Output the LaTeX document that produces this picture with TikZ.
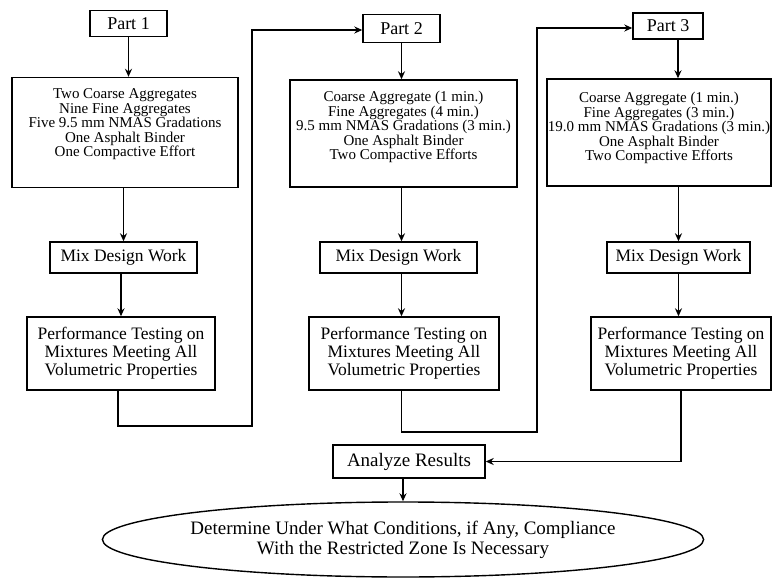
\documentclass[tikz,border=0pt]{standalone}
\usepackage{fontspec}
\setmainfont{Liberation Serif}
\usetikzlibrary{arrows.meta,shapes.geometric}
\begin{document}
\begin{tikzpicture}[x=1pt,y=-1pt,
  line width=1.4pt,
  arr/.style={-{Stealth[length=8pt,width=7pt]}},
  partbox/.style={draw, inner sep=0pt, minimum height=26pt, font=\fontsize{18}{19}\selectfont},
  listbox/.style={draw, inner sep=0pt, font=\fontsize{15}{14.6}\selectfont},
  midbox/.style={draw, inner sep=0pt, align=center, font=\fontsize{17.5}{18}\selectfont},
  bigbox/.style={draw, inner sep=0pt, align=center, font=\fontsize{19}{20}\selectfont},
  ovalbox/.style={draw, ellipse, inner sep=0pt, align=center, font=\fontsize{19}{20}\selectfont}
]
\useasboundingbox (0,0) rectangle (772,578);

% Part labels
\node[partbox, minimum width=77pt] (p1) at (128.5,23.5) {Part 1};
\node[partbox, minimum width=77pt, minimum height=28pt] (p2) at (401.5,28.5) {Part 2};
\node[partbox, minimum width=70pt] (p3) at (668,26) {Part 3};

% List boxes
\node[listbox] (b1) at (125,132.5) {\parbox[c][110pt][t]{226pt}{\centering\vspace*{11pt}Two Coarse Aggregates\\Nine Fine Aggregates\\Five 9.5 mm NMAS Gradations\\One Asphalt Binder\\One Compactive Effort}};
\node[listbox] (b2) at (403.5,133.5) {\parbox[c][107pt][t]{227pt}{\centering\vspace*{11pt}Coarse Aggregate (1 min.)\\Fine Aggregates (4 min.)\\9.5 mm NMAS Gradations (3 min.)\\One Asphalt Binder\\Two Compactive Efforts}};
\node[listbox] (b3) at (659,132.5) {\parbox[c][107pt][t]{224pt}{\centering\vspace*{13pt}Coarse Aggregate (1 min.)\\Fine Aggregates (3 min.)\\19.0 mm NMAS Gradations (3 min.)\\One Asphalt Binder\\Two Compactive Efforts}};

% Mix design boxes
\node[midbox, minimum width=147pt, minimum height=31pt] (m1) at (123.5,257.5) {Mix Design Work};
\node[midbox, minimum width=157pt, minimum height=31pt] (m2) at (398.5,257.5) {Mix Design Work};
\node[midbox, minimum width=143pt, minimum height=31pt] (m3) at (678.5,257.5) {Mix Design Work};

% Performance testing boxes
\node[midbox, minimum width=188pt, minimum height=73pt] (r1) at (121,353.5) {\raisebox{-3pt}{\parbox{188pt}{\centering Performance Testing on\\Mixtures Meeting All\\Volumetric Properties}}};
\node[midbox, minimum width=190pt, minimum height=73pt] (r2) at (404,353.5) {\raisebox{-3pt}{\parbox{190pt}{\centering Performance Testing on\\Mixtures Meeting All\\Volumetric Properties}}};
\node[midbox, minimum width=180pt, minimum height=73pt] (r3) at (681,353.5) {\raisebox{-3pt}{\parbox{180pt}{\centering Performance Testing on\\Mixtures Meeting All\\Volumetric Properties}}};

% Analysis
\node[bigbox, minimum width=152pt, minimum height=33pt] (an) at (409,461.5) {Analyze Results};
\node[ovalbox, minimum width=500pt, minimum height=75pt] (ell) at (403,539.5) {Determine Under What Conditions, if Any, Compliance\\With the Restricted Zone Is Necessary};

% bend points
\coordinate (k1) at (252,426);
\coordinate (k2) at (252,30);
\coordinate (k3) at (537,432);
\coordinate (k4) at (537,28);

% connectors column 1
\draw[arr] (p1.south) -- (b1.north -| p1.south);
\draw[arr] (b1.south -| m1.north) -- (m1.north);
\draw[arr] (m1.south -| r1.north) -- (r1.north);
\draw[arr] ([xshift=-3pt]r1.south) |- (k1) -- (k2) -- (k2 -| p2.west);

% connectors column 2
\draw[arr] (p2.south) -- (b2.north -| p2.south);
\draw[arr] (b2.south -| p2.south) -- (m2.north -| p2.south);
\draw[arr] (m2.south -| p2.south) -- (r2.north -| p2.south);
\draw[arr] (r2.south -| p2.south) |- (k3) -- (k4) -- (k4 -| p3.west);

% connectors column 3
\draw[arr] (p3.south -| 678,0) -- (b3.north -| 678,0);
\draw[arr] (b3.south -| m3.north) -- (m3.north);
\draw[arr] (m3.south) -- (r3.north -| m3.south);
\draw[arr] (r3.south) |- (an.east);

% to conclusion
\draw[arr] (an.south -| ell.north) -- (ell.north);
\end{tikzpicture}
\end{document}
